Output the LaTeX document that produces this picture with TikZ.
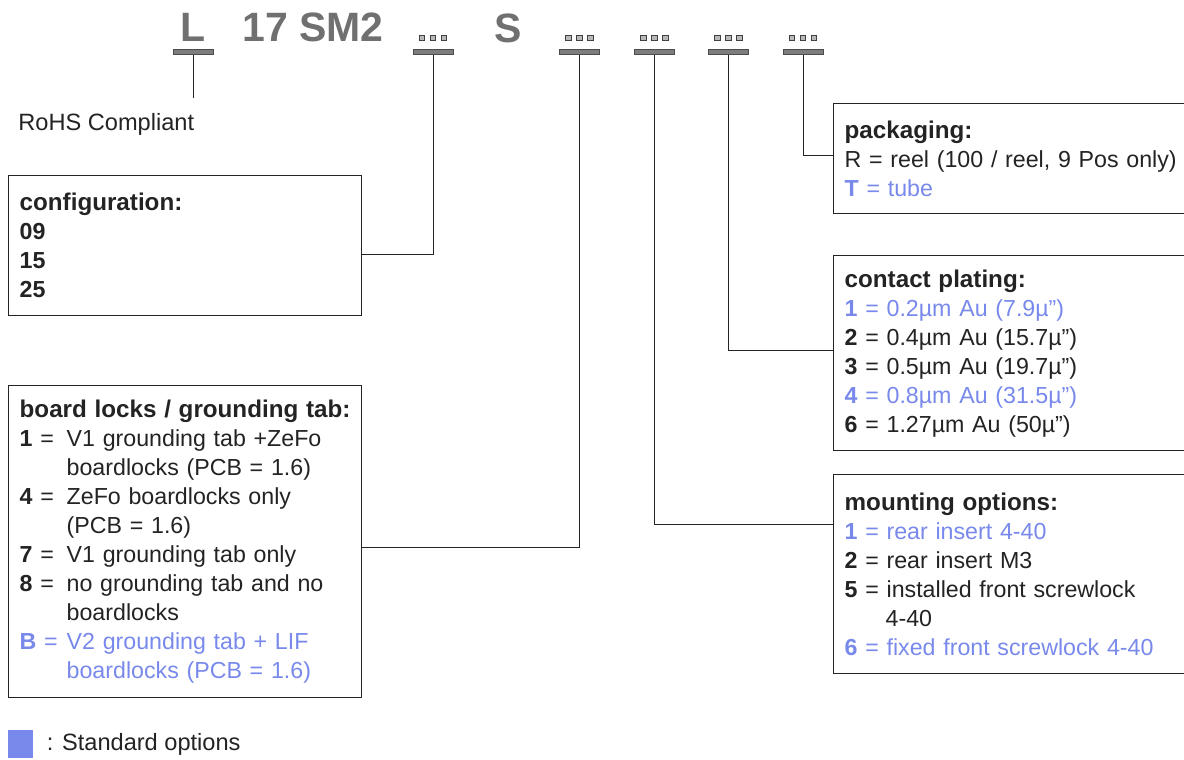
\documentclass[tikz,border=0pt]{standalone}
\usepackage{fontspec}
\setmainfont{Liberation Sans}
\usetikzlibrary{positioning}
\definecolor{optBlue}{RGB}{120,137,235}
\definecolor{inkDark}{RGB}{35,35,35}
\definecolor{codeGray}{RGB}{112,112,112}
\definecolor{barGray}{RGB}{125,125,125}
\tikzset{
  codetext/.style={anchor=base west, inner sep=0pt, font=\fontsize{20.5}{24}\selectfont\bfseries, text=codeGray},
  codebar/.style={draw=black!70, line width=0.3pt, fill=barGray, minimum width=20pt, minimum height=2.4pt, inner sep=0pt},
  dotsq/.style={draw=black!75, line width=0.5pt, fill=gray!55, minimum size=2.9pt, inner sep=0pt},
  optbox/.style={draw=inkDark, line width=0.7pt, anchor=north west, align=left, inner xsep=5.5pt, inner ysep=0pt, text=inkDark, font=\fontsize{11.6}{14.5}\selectfont},
  lead/.style={draw=inkDark, line width=0.5pt},
  note/.style={inner sep=0pt, text=inkDark, font=\fontsize{11.8}{14.5}\selectfont}
}
\newcommand{\boxtitle}[1]{\mbox{\fontsize{12.1}{14.5}\selectfont\bfseries #1}}
\newcommand{\optkey}[1]{\makebox[23.5pt][l]{\textbf{#1} =}}
\newcommand{\optindent}{\hspace*{23.5pt}}

\begin{document}
\begin{tikzpicture}[x=0.5pt, y=-0.5pt]
  \useasboundingbox (0,0) rectangle (1184,760);
  \clip (0,0) rectangle (1184,760);

  \node[codetext] (codeL) at (180,41) {L};
  \node[codetext] (codeSM) at (242,41) {17 SM2};
  \node[codetext] (codeS) at (494,42) {S};

  \node[codebar] (barL) at (193,52) {};
  \foreach \n/\cx in {A/433,B/579.5,C/654.5,D/728.5,E/803}{
    \node[codebar] (bar\n) at (\cx,52) {};
    \foreach \dx in {-11,0,11}
      \node[dotsq] at (\cx+\dx,38) {};
  }

  \node[note, anchor=west] (rohs) at (18,124) {RoHS Compliant};

  \node[optbox, text width=165.5pt, minimum height=70pt] (config) at (8,175)
    {\boxtitle{configuration:}\\ \textbf{09}\\ \textbf{15}\\ \textbf{25}};

  \node[optbox, text width=165.5pt, minimum height=156pt] (locks) at (8,385)
    {\boxtitle{board locks / grounding tab:}\\
     \optkey{1}V1 grounding tab +ZeFo\\
     \optindent boardlocks (PCB = 1.6)\\
     \optkey{4}ZeFo boardlocks only\\
     \optindent (PCB = 1.6)\\
     \optkey{7}V1 grounding tab only\\
     \optkey{8}no grounding tab and no\\
     \optindent boardlocks\\
     {\color{optBlue}\optkey{B}V2 grounding tab + LIF}\\
     {\color{optBlue}\optindent boardlocks (PCB = 1.6)}};

  \node[optbox, text width=170.5pt, minimum height=55pt] (pack) at (833,103)
    {\boxtitle{packaging:}\\
     \mbox{R = reel (100 / reel, 9 Pos only)}\\
     {\color{optBlue}\textbf{T} = tube}};

  \node[optbox, text width=170.5pt, minimum height=97.5pt] (plating) at (833,255)
    {\boxtitle{contact plating:}\\
     {\color{optBlue}\textbf{1} = 0.2µm Au (7.9µ”)}\\
     \textbf{2} = 0.4µm Au (15.7µ”)\\
     \textbf{3} = 0.5µm Au (19.7µ”)\\
     {\color{optBlue}\textbf{4} = 0.8µm Au (31.5µ”)}\\
     \textbf{6} = 1.27µm Au (50µ”)};

  \node[optbox, text width=170.5pt, minimum height=99.5pt] (mount) at (833,474)
    {\boxtitle{mounting options:}\\
     {\color{optBlue}\textbf{1} = rear insert 4-40}\\
     \textbf{2} = rear insert M3\\
     \textbf{5} = installed front screwlock\\
     \hspace*{20.5pt}4-40\\
     {\color{optBlue}\mbox{\textbf{6} = fixed front screwlock 4-40}}};

  \node[draw=none, fill=optBlue, minimum width=12.5pt, minimum height=14pt, inner sep=0pt] (legkey) at (20.5,744) {};
  \node[note, right=6.5pt of legkey] (legtext) {: Standard options};

  \draw[lead] (barL.south) -- ++(0,43);
  \draw[lead] (barA.south) |- ([yshift=-4.5pt]config.east);
  \draw[lead] (barB.south) |- ([yshift=-3pt]locks.east);
  \draw[lead] (barC.south) |- ([yshift=24.75pt]mount.west);
  \draw[lead] (barD.south) |- ([yshift=1.25pt]plating.west);
  \draw[lead] (barE.south) |- ([yshift=1.5pt]pack.west);
\end{tikzpicture}
\end{document}
